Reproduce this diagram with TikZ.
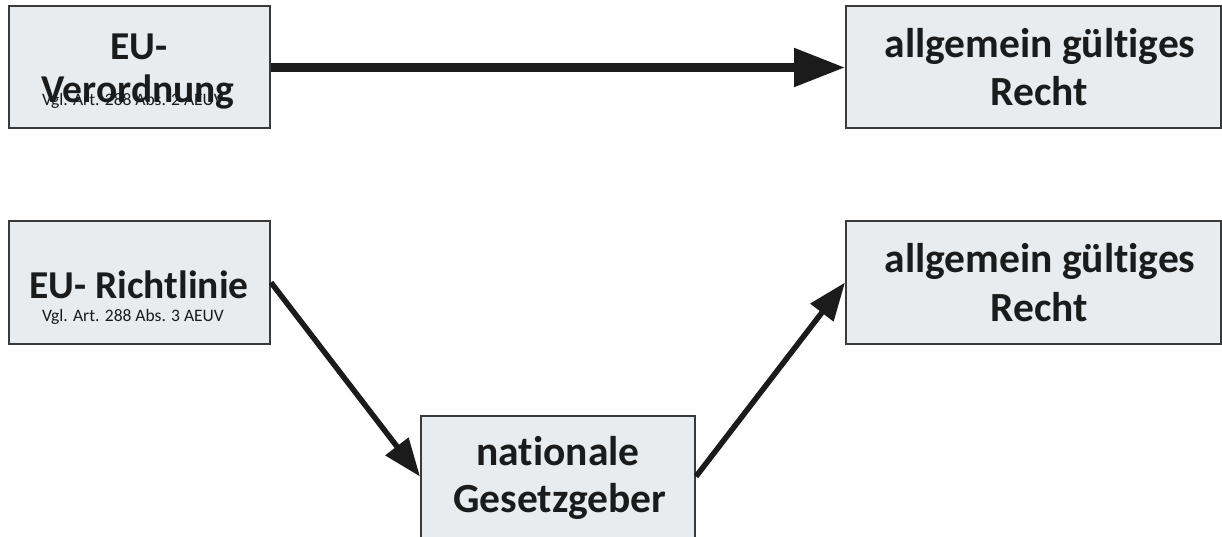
\documentclass[tikz,border=0pt]{standalone}
\usepackage{fontspec}
\setmainfont{Carlito}[Ligatures=NoCommon]
\usetikzlibrary{arrows.meta}
\definecolor{boxfill}{HTML}{E8ECEE}
\definecolor{boxline}{HTML}{3A3A3A}
\definecolor{ink}{HTML}{1B1B1B}
\tikzset{
  box/.style={draw=boxline, line width=2pt, fill=boxfill, rectangle, inner sep=0pt},
  smallbox/.style={box, minimum width=261pt, minimum height=122pt},
  widebox/.style={box, minimum width=375pt, minimum height=122pt},
  midbox/.style={box, minimum width=274pt, minimum height=122pt},
  big/.style={anchor=base, inner sep=0pt, text=ink, font=\fontsize{41.5}{48}\selectfont\bfseries},
  leftbig/.style={big, font=\fontsize{39.5}{48}\selectfont\bfseries},
  small/.style={anchor=base, inner sep=0pt, text=ink, font=\fontsize{17.5}{20}\selectfont},
  thick arrow/.style={draw=ink, line width=8.4pt, -{Triangle[length=51pt,width=37pt]}},
  thin arrow/.style={draw=ink, line width=5.5pt, -{Triangle[length=38pt,width=28pt]}},
}
\begin{document}
\begin{tikzpicture}[x=1pt,y=-1pt]
\useasboundingbox (0,0) rectangle (1222,537);
\fill[white] (0,0) rectangle (1222,537);
% boxes
\node[smallbox] (a) at (139.5,67.5) {};
\node[widebox]  (b) at (1033.5,67.5) {};
\node[smallbox] (c) at (139.5,282.5) {};
\node[widebox]  (d) at (1033.5,282.5) {};
\node[midbox]   (e) at (558,476.5) {};
% texts
\node[leftbig] (a1) at (139,59.3) {EU-};
\node[leftbig] (a2) at (138,103) {Verordnung};
\node[small] (a3) at (133,106) {Vgl. Art. 288 Abs. 2 AEUV};
\node[big] (b1) at (1040,57.3) {allgemein gültiges};
\node[big] (b2) at (1039,106) {Recht};
\node[leftbig] (c1) at (139,298.3) {EU- Richtlinie};
\node[small] (c2) at (133,321) {Vgl. Art. 288 Abs. 3 AEUV};
\node[big] (d1) at (1040,272.3) {allgemein gültiges};
\node[big] (d2) at (1039,321) {Recht};
\node[big] (e1) at (558,465) {nationale};
\node[big] (e2) at (560,512.7) {Gesetzgeber};
% connectors
\draw[thick arrow] (a.east) -- (b.west);
\draw[thin arrow] (c.east) -- (e.west);
\draw[thin arrow] (e.east) -- (d.west);
\end{tikzpicture}
\end{document}
